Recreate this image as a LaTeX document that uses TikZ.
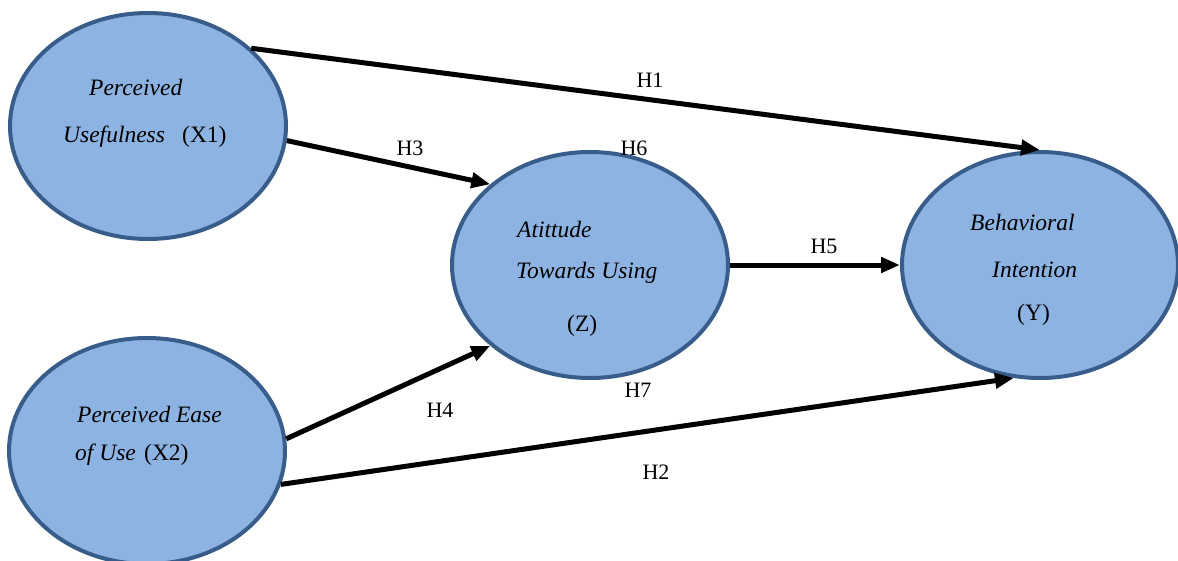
\documentclass[tikz,border=0pt]{standalone}
\usepackage{fontspec}
\setmainfont{Liberation Serif}
\usetikzlibrary{shapes.geometric,arrows.meta}
\definecolor{cfill}{HTML}{8DB3E2}
\definecolor{cline}{HTML}{385D8A}
\tikzset{
  construct/.style={ellipse, draw=cline, fill=cfill, line width=4pt,
    minimum width=276pt, minimum height=226pt, inner sep=0pt},
  link/.style={line width=5pt, -{Triangle[length=19pt,width=15pt]}},
  hyp/.style={font=\fontsize{22}{26}\selectfont},
  lbl/.style={anchor=base west, inner sep=0pt, font=\fontsize{23.5}{28}\selectfont\itshape},
  lblu/.style={anchor=base west, inner sep=0pt, font=\fontsize{23.5}{28}\selectfont},
}
\begin{document}
\begin{tikzpicture}[x=1pt, y=-1pt]
\useasboundingbox (0,0) rectangle (1178,560);
% constructs
\node[construct] (x1) at (148,126) {};
\node[construct] (x2) at (147,451) {};
\node[construct] (z) at (590,265) {};
\node[construct] (y) at (1040,265) {};
% construct labels
\node[lbl] (t1a) at (89,95) {Perceived};
\node[lbl] (t1b) at (63,142) {Usefulness};
\node[lblu] (t1c) at (182,142) {(X1)};
\node[lbl] (t2a) at (77,422) {Perceived Ease};
\node[lbl] (t2b) at (75,460) {of Use};
\node[lblu] (t2c) at (144,460) {(X2)};
\node[lbl] (tza) at (517,237) {Atittude};
\node[lbl] (tzb) at (516,278) {Towards Using};
\node[lblu] (tzc) at (567,331) {(Z)};
\node[lbl] (tya) at (970,230) {Behavioral};
\node[lbl] (tyb) at (992,277) {Intention};
\node[lblu] (tyc) at (1017,320) {(Y)};
% paths
\draw[link] (x1.37) -- (y.north);
\draw[link] (x1.-6) -- (z.141);
\draw[link] (x2.5) -- (z.219);
\draw[link] (x2.-14) -- (y.257);
\draw[link] (z.east) -- (y.west);
% hypothesis labels
\node[hyp] (h1) at (650,80) {H1};
\node[hyp] (h3) at (410,148) {H3};
\node[hyp] (h6) at (634,148) {H6};
\node[hyp] (h5) at (824,246) {H5};
\node[hyp] (h4) at (440,410) {H4};
\node[hyp] (h7) at (638,390) {H7};
\node[hyp] (h2) at (656,472) {H2};
\end{tikzpicture}
\end{document}
